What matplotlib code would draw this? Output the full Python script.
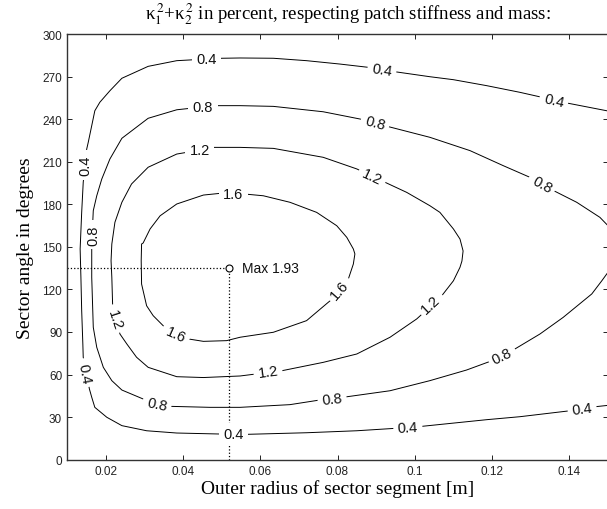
import matplotlib
matplotlib.use('Agg')
import matplotlib.pyplot as plt

plt.rcParams['mathtext.fontset'] = 'stix'

# contour lines (x = outer radius [m], y = sector angle [deg])
x_04 = [0.1497, 0.1393, 0.1329, 0.1272, 0.1186, 0.1100, 0.1039, 0.0949, 0.0880, 0.0807,
        0.0720, 0.0634, 0.0548, 0.0501, 0.0431, 0.0384, 0.0310, 0.0242, 0.0211, 0.0185,
        0.0172, 0.0164, 0.0155, 0.0151, 0.0142, 0.0138, 0.0134, 0.0136, 0.0138, 0.0141,
        0.0142, 0.0158, 0.0164, 0.0172, 0.0203, 0.0242, 0.0306, 0.0384, 0.0496, 0.0569,
        0.0720, 0.0850, 0.0949, 0.1018, 0.1186, 0.1272, 0.1402, 0.1466, 0.1500]
y_04 = [245.9, 251.4, 255.4, 258.9, 263.6, 267.8, 269.9, 273.4, 276.5, 278.8,
        281.2, 282.9, 283.1, 282.9, 281.9, 281.2, 277.2, 268.8, 260.0, 251.9,
        245.9, 235.4, 223.7, 218.9, 195.5, 174.3, 148.5, 128.5, 105.0, 81.5,
        72.2, 49.8, 44.0, 36.9, 29.9, 24.0, 20.4, 18.8, 18.1, 17.9,
        19.0, 20.4, 22.1, 23.5, 28.2, 30.3, 34.5, 37.3, 38.3]

x_08 = [0.1500, 0.1479, 0.1419, 0.1363, 0.1298, 0.1229, 0.1143, 0.1039, 0.0932, 0.0858,
        0.0763, 0.0634, 0.0548, 0.0483, 0.0418, 0.0384, 0.0310, 0.0242, 0.0211, 0.0190,
        0.0177, 0.0168, 0.0164, 0.0164, 0.0168, 0.0177, 0.0194, 0.0216, 0.0242, 0.0297,
        0.0367, 0.0470, 0.0548, 0.0677, 0.0755, 0.0815, 0.0936, 0.1039, 0.1134, 0.1195,
        0.1259, 0.1324, 0.1384, 0.1458, 0.1484, 0.1500]
y_08 = [164.9, 170.8, 181.4, 189.1, 199.0, 207.2, 217.8, 227.2, 234.7, 240.1,
        245.2, 249.0, 249.5, 249.5, 247.6, 246.6, 240.6, 226.5, 211.9, 197.8,
        186.0, 175.5, 152.0, 128.5, 93.3, 79.2, 65.1, 55.7, 49.1, 42.8,
        37.6, 36.9, 36.9, 38.8, 42.1, 44.0, 48.6, 55.7, 63.2, 69.3,
        78.0, 88.6, 100.3, 116.8, 126.1, 132.1]

x_12 = [0.0410, 0.0479, 0.0548, 0.0634, 0.0763, 0.0850, 0.0923, 0.0979, 0.1039, 0.1065,
        0.1100, 0.1117, 0.1125, 0.1122, 0.1117, 0.1100, 0.1070, 0.1039, 0.1005, 0.0936,
        0.0850, 0.0763, 0.0656, 0.0548, 0.0453, 0.0384, 0.0310, 0.0280, 0.0255, 0.0237,
        0.0218, 0.0216, 0.0214, 0.0216, 0.0224, 0.0242, 0.0267, 0.0310, 0.0384, 0.0410]
y_12 = [216.6, 220.1, 220.1, 219.4, 213.1, 204.9, 195.5, 188.4, 179.0, 174.3,
        162.6, 155.5, 147.1, 140.0, 135.6, 126.1, 115.6, 107.6, 99.2, 86.3,
        74.5, 68.6, 62.7, 59.0, 57.9, 58.5, 65.1, 72.2, 81.5, 88.6,
        109.7, 128.5, 140.2, 152.0, 167.3, 181.4, 194.3, 206.1, 215.4, 216.6]

x_16 = [0.0561, 0.0608, 0.0677, 0.0746, 0.0798, 0.0824, 0.0841, 0.0845, 0.0841, 0.0828,
        0.0812, 0.0776, 0.0720, 0.0634, 0.0548, 0.0513, 0.0453, 0.0414, 0.0382, 0.0349,
        0.0323, 0.0306, 0.0293, 0.0292, 0.0293, 0.0297, 0.0315, 0.0341, 0.0384, 0.0453,
        0.0496, 0.0561]
y_16 = [187.2, 186.0, 181.4, 174.3, 164.9, 156.7, 148.5, 145.0, 137.9, 127.3,
        118.9, 110.9, 98.0, 89.8, 86.3, 83.9, 83.4, 85.1, 89.3, 94.4,
        101.5, 108.5, 123.8, 140.2, 152.0, 152.7, 162.6, 171.9, 180.2, 186.5,
        187.7, 187.2]

# inline contour labels: text, x, y, rotation
lab_text = ['0.4', '0.4', '0.4', '0.4', '0.4', '0.4', '0.4', '0.4',
            '0.8', '0.8', '0.8', '0.8', '0.8', '0.8', '0.8',
            '1.2', '1.2', '1.2', '1.2', '1.2',
            '1.6', '1.6', '1.6']
lab_x = [0.0462, 0.0915, 0.1360, 0.0147, 0.0144, 0.0532, 0.0982, 0.1433,
         0.0452, 0.0897, 0.1329, 0.0167, 0.0333, 0.0786, 0.1226,
         0.0444, 0.0889, 0.1042, 0.0620, 0.0224,
         0.0530, 0.0804, 0.0382]
lab_y = [282.4, 274.8, 253.5, 207.7, 61.1, 18.1, 23.0, 35.7,
         248.5, 237.3, 194.3, 158.4, 39.3, 42.8, 73.1,
         218.3, 199.2, 109.7, 61.8, 99.2,
         187.2, 120.1, 88.6]
lab_rot = [0, -9, -13, 90, -79, 0, 3, 7,
           0, -15, -29, 90, -12, 6, 26,
           0, -25, 43, 8, -72,
           0, 49, -24]

max_x = 0.052
max_y = 135
max_val = 1.93

fig = plt.figure(figsize=(6.07, 5.10), dpi=100)
ax = fig.add_axes([67/607, 49.3/510, 541/607, 425.7/510])

for xs, ys in [(x_04, y_04), (x_08, y_08), (x_12, y_12), (x_16, y_16)]:
    ax.plot(xs, ys, color='black', lw=0.7, zorder=2)

for t, lx, ly, r in zip(lab_text, lab_x, lab_y, lab_rot):
    ax.text(lx, ly, t, rotation=r, rotation_mode='anchor', ha='center', va='center',
            fontsize=10.5, family='Liberation Sans', color='#111111', zorder=3,
            bbox=dict(boxstyle='square,pad=0.3', fc='white', ec='none'))

# maximum with dotted guide lines
ax.plot([0.01, max_x], [max_y, max_y], color='black', ls=':', lw=0.9, zorder=2)
ax.plot([max_x, max_x], [0, max_y], color='black', ls=':', lw=0.9, zorder=2)
ax.plot(max_x, max_y, 'o', ms=5, mfc='white', mec='black', mew=0.8, zorder=4)
ax.text(max_x + 0.0034, max_y, 'Max ' + str(max_val), ha='left', va='center',
        fontsize=10, family='Liberation Sans', color='#111111', zorder=4)

ax.set_xlim(0.01, 0.15)
ax.set_ylim(0, 300)
ax.set_xticks([0.02, 0.04, 0.06, 0.08, 0.1, 0.12, 0.14])
ax.set_xticklabels(['0.02', '0.04', '0.06', '0.08', '0.1', '0.12', '0.14'])
ax.set_yticks(range(0, 301, 30))
ax.tick_params(direction='in', length=3.5, width=0.7, top=True, right=True,
               labelsize=8.5, colors='#222222')
for lbl in ax.get_xticklabels() + ax.get_yticklabels():
    lbl.set_family('Liberation Sans')
for sp in ax.spines.values():
    sp.set_linewidth(1.0)
    sp.set_color('#333333')

ax.set_xlabel('Outer radius of sector segment [m]', family='Liberation Serif',
              fontsize=14, labelpad=2)
ax.set_ylabel('Sector angle in degrees', family='Liberation Serif', fontsize=14,
              labelpad=6)
ax.set_title('κ$_1^{\\,2}$+κ$_2^{\\,2}$ in percent, respecting patch stiffness and mass:',
             family='Liberation Serif', fontsize=13.5, pad=11, x=0.5 + 10/541)

fig.savefig('out.png', dpi=100)
